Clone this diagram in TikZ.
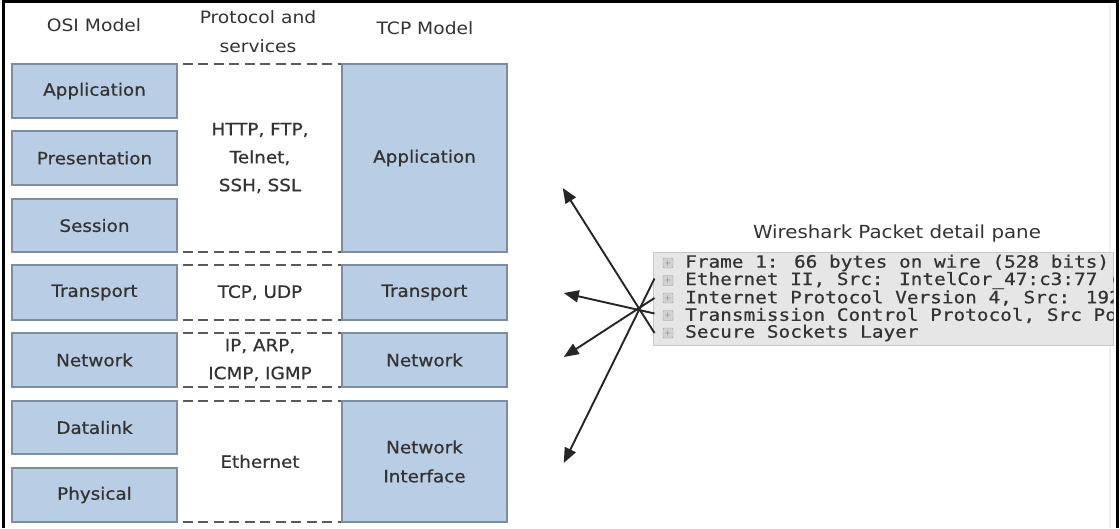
\documentclass[tikz,border=0pt]{standalone}
\usepackage{fontspec}
\usetikzlibrary{arrows.meta,calc}
\newfontfamily\labfont[FakeStretch=1.1]{DejaVu Sans}
\newfontfamily\boxfont[FakeStretch=1.08,FakeBold=0.7]{DejaVu Sans}
\newfontfamily\codefont[FakeStretch=1.14,FakeBold=0.6]{DejaVu Sans Mono}
\definecolor{layerfill}{HTML}{B9CDE5}
\definecolor{layerline}{HTML}{7F8CA0}
\definecolor{ink}{HTML}{333333}
\definecolor{dashline}{HTML}{5A5A5A}
\definecolor{panefill}{HTML}{E6E6E6}
\definecolor{paneline}{HTML}{C8C8C8}
\definecolor{arrowink}{HTML}{262626}

\begin{document}
\begin{tikzpicture}[x=1pt,y=-1pt,
  lab/.style={font=\labfont\fontsize{17}{28}\selectfont, text=ink, align=center},
  layer/.style={lab, font=\boxfont\fontsize{17}{29}\selectfont, draw=layerline, line width=1.5pt,
                fill=layerfill, minimum width=165pt, inner sep=0pt},
  proto/.style={lab, font=\boxfont\fontsize{17}{28}\selectfont, minimum width=154pt, inner sep=0pt},
  sep/.style={draw=dashline, line width=1.8pt, dash pattern=on 10pt off 5.5pt},
  row/.style={font=\codefont\fontsize{17}{17}\selectfont, text=ink, anchor=west, inner sep=0pt},
  plusbox/.style={draw=gray!75, fill=gray!35, minimum size=10pt, inner sep=0pt,
                  rounded corners=1pt, font=\fontsize{8}{8}\selectfont, text=gray!80!black},
  link/.style={draw=arrowink, line width=1.9pt, -{Triangle[length=15pt,width=12pt]}}
]
\useasboundingbox (0,0) rectangle (1120,528);
\fill[white] (0,0) rectangle (1120,528);

% faint inner frame and outer black frame
\draw[gray!12, line width=1.5pt] (1110,5) -- (1110,528);
\draw[black, line width=3pt] (3.5,528) -- (3.5,1.5) -- (1117.5,1.5) -- (1117.5,528);

% column headings
\node[lab] (hOSI) at (94,25) {OSI Model};
\node[lab, font=\labfont\fontsize{17}{29}\selectfont] (hProto) at (258,31.5) {Protocol and\\services};
\node[lab] (hTCP) at (425,28) {TCP Model};

% OSI layers
\node[layer, minimum height=54pt] (oApp) at (94.5,91)    {Application};
\node[layer, minimum height=54pt] (oPre) at (94.5,158)   {Presentation};
\node[layer, minimum height=53pt] (oSes) at (94.5,225.5) {Session};
\node[layer, minimum height=55pt] (oTra) at (94.5,292.5) {Transport};
\node[layer, minimum height=54pt] (oNet) at (94.5,360)   {Network};
\node[layer, minimum height=53pt] (oDat) at (94.5,427.5) {Datalink};
\node[layer, minimum height=54pt] (oPhy) at (94.5,495)   {Physical};

% TCP/IP layers
\node[layer, minimum height=188pt] (tApp) at (424.5,158)   {Application};
\node[layer, minimum height=55pt]  (tTra) at (424.5,292.5) {Transport};
\node[layer, minimum height=54pt]  (tNet) at (424.5,360)   {Network};
\node[layer, minimum height=121pt] (tNI)  at (424.5,461.5) {Network\\Interface};

% protocols and services
\node[proto, minimum height=188pt] (pApp) at (260,158)   {HTTP, FTP,\\Telnet,\\SSH, SSL};
\node[proto, minimum height=55pt]  (pTra) at (260,292.5) {TCP, UDP};
\node[proto, minimum height=54pt]  (pNet) at (260,360)   {IP, ARP,\\ICMP, IGMP};
\node[proto, minimum height=121pt] (pNI)  at (260,461.5) {Ethernet};

\foreach \p/\t in {pApp/tApp, pTra/tTra, pNet/tNet, pNI/tNI}{
  \draw[sep] (\p.north west) -- (\p.north west -| \t.west);
  \draw[sep] (\p.south west) -- (\p.south west -| \t.west);
}

% Wireshark packet detail pane
\node[lab, font=\labfont\fontsize{18}{18}\selectfont] (title) at (897,234) {Wireshark Packet detail pane};
\node[draw=paneline, fill=panefill, line width=1pt, minimum width=460pt, minimum height=93pt,
      inner sep=0pt] (pane) at (883,298.5) {};
\begin{scope}
  \clip (pane.south west) rectangle (pane.north east);
  \node[row] (rFrame) at (685,263)   {Frame 1: 66 bytes on wire (528 bits)};
  \node[row] (rEth)   at (685,280.5) {Ethernet II, Src: IntelCor\_47:c3:77 (};
  \node[row] (rIP)    at (685,298)   {Internet Protocol Version 4, Src: 192};
  \node[row] (rTCP)   at (685,315.5) {Transmission Control Protocol, Src Po};
  \node[row] (rSSL)   at (685,333)   {Secure Sockets Layer};
\end{scope}
\foreach \r in {rFrame, rEth, rIP, rTCP, rSSL}{
  \node[plusbox] at ($(\r.west)+(-17,0)$) {+};
}

% links from the pane rows to the TCP/IP layers
\coordinate (hApp) at ($(tApp.east)+(55,30)$);
\coordinate (hTra) at ($(tTra.east)+(56,0.5)$);
\coordinate (hNet) at ($(tNet.east)+(56,-3)$);
\coordinate (hNI)  at ($(tNI.east)+(56,1.5)$);

\draw[link] ($(pane.west |- rSSL.west)+(2,0)$) -- (hApp);
\draw[link] ($(pane.west |- rTCP.west)+(2,-2)$) -- (hTra);
\draw[link] ($(pane.west |- rIP.west)+(2,0)$)   -- (hNet);
\draw[link] ($(pane.west |- rEth.west)+(2,-2)$) -- (hNI);
\end{tikzpicture}
\end{document}
